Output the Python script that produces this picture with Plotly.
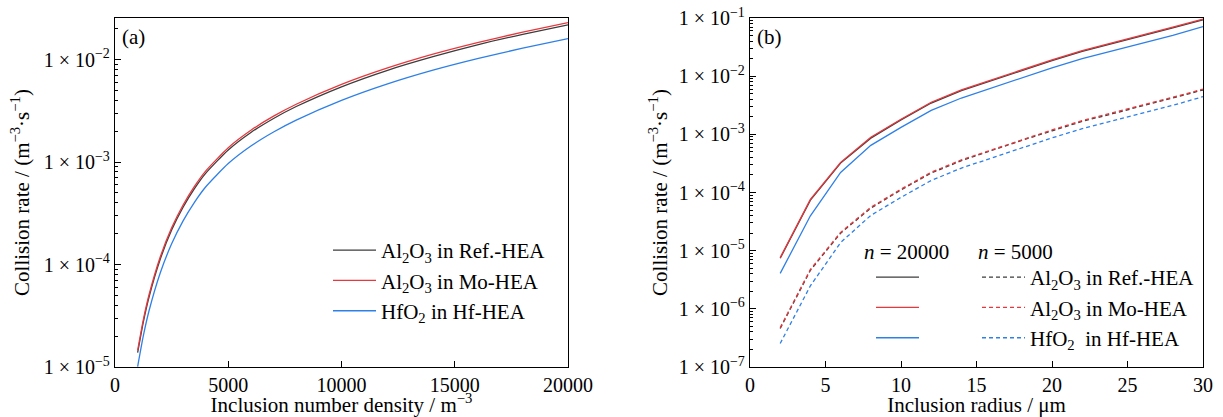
import plotly.graph_objects as go

# ---- (a) collision rate vs inclusion number density ----
density = [1000, 1250, 1500, 2000, 2500, 3000, 3500, 4000, 5000, 6000,
           7000, 8000, 10000, 12000, 14000, 16000, 18000, 20000]
rate_ref_a = [1.38e-5, 2.74e-5, 4.79e-5, 1.13e-4, 2.17e-4, 3.60e-4, 5.46e-4, 7.74e-4, 1.31e-3,
              1.94e-3, 2.66e-3, 3.48e-3, 5.42e-3, 7.81e-3, 1.06e-2, 1.39e-2, 1.76e-2, 2.18e-2]
rate_mo_a = [1.45e-5, 2.88e-5, 5.04e-5, 1.19e-4, 2.28e-4, 3.79e-4, 5.75e-4, 8.15e-4, 1.38e-3,
             2.04e-3, 2.80e-3, 3.66e-3, 5.71e-3, 8.22e-3, 1.12e-2, 1.46e-2, 1.85e-2, 2.29e-2]
rate_hf_a = [1.01e-5, 2.01e-5, 3.52e-5, 8.32e-5, 1.59e-4, 2.65e-4, 4.02e-4, 5.70e-4, 9.65e-4,
             1.43e-3, 1.96e-3, 2.56e-3, 3.99e-3, 5.75e-3, 7.83e-3, 1.02e-2, 1.29e-2, 1.60e-2]
density_ticks = [0, 5000, 10000, 15000, 20000]

# ---- (b) collision rate vs inclusion radius ----
radius = [2, 4, 6, 8, 10, 12, 14, 16, 18, 20, 22, 24, 26, 28, 30]
radius_ticks = [0, 5, 10, 15, 20, 25, 30]
# n = 20000
rate_ref_20k = [7.4e-6, 7.4e-5, 3.2e-4, 8.6e-4, 1.77e-3, 3.45e-3, 5.63e-3, 8.44e-3,
                1.26e-2, 1.85e-2, 2.67e-2, 3.61e-2, 4.91e-2, 6.74e-2, 9.26e-2]
rate_mo_20k = [7.6e-6, 7.6e-5, 3.3e-4, 8.9e-4, 1.82e-3, 3.56e-3, 5.8e-3, 8.7e-3,
               1.30e-2, 1.91e-2, 2.75e-2, 3.72e-2, 5.06e-2, 6.95e-2, 9.55e-2]
rate_hf_20k = [4.07e-6, 3.98e-5, 2.21e-4, 6.46e-4, 1.32e-3, 2.58e-3, 4.21e-3, 6.32e-3,
               9.42e-3, 1.39e-2, 2.0e-2, 2.70e-2, 3.66e-2, 5.04e-2, 7.1e-2]
# n = 5000
rate_ref_5k = [4.6e-7, 4.6e-6, 2.0e-5, 5.39e-5, 1.11e-4, 2.16e-4, 3.52e-4, 5.28e-4,
               7.89e-4, 1.15e-3, 1.67e-3, 2.26e-3, 3.07e-3, 4.21e-3, 5.79e-3]
rate_mo_5k = [4.75e-7, 4.75e-6, 2.06e-5, 5.56e-5, 1.14e-4, 2.23e-4, 3.63e-4, 5.44e-4,
              8.13e-4, 1.19e-3, 1.72e-3, 2.33e-3, 3.16e-3, 4.34e-3, 5.97e-3]
rate_hf_5k = [2.54e-7, 2.49e-6, 1.38e-5, 4.04e-5, 8.25e-5, 1.61e-4, 2.63e-4, 3.95e-4,
              5.89e-4, 8.69e-4, 1.25e-3, 1.69e-3, 2.29e-3, 3.15e-3, 4.44e-3]

labels_a = ["Al<sub>2</sub>O<sub>3</sub> in Ref.-HEA",
            "Al<sub>2</sub>O<sub>3</sub> in Mo-HEA",
            "HfO<sub>2</sub> in Hf-HEA"]
labels_b = ["Al<sub>2</sub>O<sub>3</sub> in Ref.-HEA",
            "Al<sub>2</sub>O<sub>3</sub> in Mo-HEA",
            "HfO<sub>2</sub>&nbsp; in Hf-HEA"]

C_REF = "#3d3d3d"
C_MO = "#e8383d"
C_HF = "#2f80e6"
FONT = "Liberation Serif"
FS = 21
TICK_FS = 20
LW = 1.3
DASH = "4px,3px"

# page geometry (px)
W, H = 1223, 417
ML, MR, MT, MB = 115, 20, 18, 50
PW, PH = W - ML - MR, H - MT - MB


def px(x):
    return (x - ML) / PW


def py(y):
    return (H - MB - y) / PH


fig = go.Figure()

for y, name, c in zip([rate_ref_a, rate_mo_a, rate_hf_a], labels_a, [C_REF, C_MO, C_HF]):
    fig.add_trace(go.Scatter(x=density, y=y, mode="lines", name=name,
                             line=dict(color=c, width=LW, shape="spline", smoothing=0.6),
                             xaxis="x", yaxis="y", legend="legend", legendgroup=name))

for i, (y, c) in enumerate(zip([rate_ref_20k, rate_mo_20k, rate_hf_20k], [C_REF, C_MO, C_HF])):
    fig.add_trace(go.Scatter(x=radius, y=y, mode="lines", name=" ",
                             line=dict(color=c, width=LW),
                             xaxis="x2", yaxis="y2", legend="legend2", legendgroup=f"s{i}"))

for i, (y, name, c) in enumerate(zip([rate_ref_5k, rate_mo_5k, rate_hf_5k], labels_b, [C_REF, C_MO, C_HF])):
    fig.add_trace(go.Scatter(x=radius, y=y, mode="lines", name=name,
                             line=dict(color=c, width=LW, dash=DASH),
                             xaxis="x2", yaxis="y2", legend="legend3", legendgroup=f"d{i}"))


def sci(e):
    return f"1 × 10<sup>−{e}</sup>"


def minor_vals(lo, hi):
    return [m * 10.0 ** e for e in range(lo, hi) for m in range(2, 10)]


def tfont(size=FS):
    return dict(family=FONT, size=size, color="black")


axis_common = dict(showline=True, linecolor="black", linewidth=1.3, mirror=True,
                   ticks="inside", ticklen=6, tickwidth=1, tickcolor="black",
                   showgrid=False, zeroline=False, automargin=False)

fig.update_layout(
    template="none",
    width=W, height=H,
    margin=dict(l=ML, r=MR, t=MT, b=MB),
    paper_bgcolor="white", plot_bgcolor="white",
    font=tfont(),
    xaxis=dict(domain=[0, px(568)], range=[0, 20000],
               tickvals=density_ticks, ticktext=[str(v) for v in density_ticks],
               tickfont=tfont(TICK_FS),
               title=dict(text="Inclusion number density / m<sup>−3</sup>",
                          font=tfont(), standoff=6),
               anchor="y", **axis_common),
    yaxis=dict(type="log", range=[-5, -1.595],
               tickvals=[1e-5, 1e-4, 1e-3, 1e-2],
               ticktext=[sci(5), sci(4), sci(3), sci(2)],
               tickfont=tfont(TICK_FS),
               minor=dict(ticks="inside", ticklen=3, tickcolor="black",
                          tickvals=minor_vals(-5, -1)),
               title=dict(text="Collision rate / (m<sup>−3</sup>·s<sup>−1</sup>)",
                          font=tfont(), standoff=8),
               anchor="x", **axis_common),
    xaxis2=dict(domain=[px(750), 1], range=[0, 30],
                tickvals=radius_ticks, ticktext=[str(v) for v in radius_ticks],
                tickfont=tfont(TICK_FS),
                title=dict(text="Inclusion radius / μm", font=tfont(), standoff=6),
                anchor="y2", **axis_common),
    yaxis2=dict(type="log", range=[-7, -1],
                tickvals=[1e-7, 1e-6, 1e-5, 1e-4, 1e-3, 1e-2, 1e-1],
                ticktext=[sci(k) for k in range(7, 0, -1)],
                tickfont=tfont(TICK_FS),
                minor=dict(ticks="inside", ticklen=3, tickcolor="black",
                           tickvals=minor_vals(-7, -1)),
                title=dict(text="Collision rate / (m<sup>−3</sup>·s<sup>−1</sup>)",
                           font=tfont(), standoff=5),
                anchor="x2", **axis_common),
    legend=dict(x=px(328), y=py(230), xanchor="left", yanchor="top",
                bgcolor="rgba(0,0,0,0)", borderwidth=0, itemwidth=43,
                font=tfont(), tracegroupgap=0),
    legend2=dict(x=px(871), y=py(257), xanchor="left", yanchor="top",
                 bgcolor="rgba(0,0,0,0)", borderwidth=0, itemwidth=43,
                 font=tfont(), tracegroupgap=0),
    legend3=dict(x=px(977), y=py(257), xanchor="left", yanchor="top",
                 bgcolor="rgba(0,0,0,0)", borderwidth=0, itemwidth=43,
                 font=tfont(), tracegroupgap=0),
    showlegend=True,
)

fig.add_annotation(text="(a)", xref="x domain", yref="y domain", x=0.01, y=0.985,
                   xanchor="left", yanchor="top", showarrow=False, font=tfont())
fig.add_annotation(text="(b)", xref="x2 domain", yref="y2 domain", x=0.01, y=0.985,
                   xanchor="left", yanchor="top", showarrow=False, font=tfont())
fig.add_annotation(text="<i>n</i> = 20000", xref="paper", yref="paper",
                   x=px(862), y=py(252), xanchor="left", yanchor="middle",
                   showarrow=False, font=tfont())
fig.add_annotation(text="<i>n</i> = 5000", xref="paper", yref="paper",
                   x=px(976), y=py(252), xanchor="left", yanchor="middle",
                   showarrow=False, font=tfont())

fig.write_html("out.html")
